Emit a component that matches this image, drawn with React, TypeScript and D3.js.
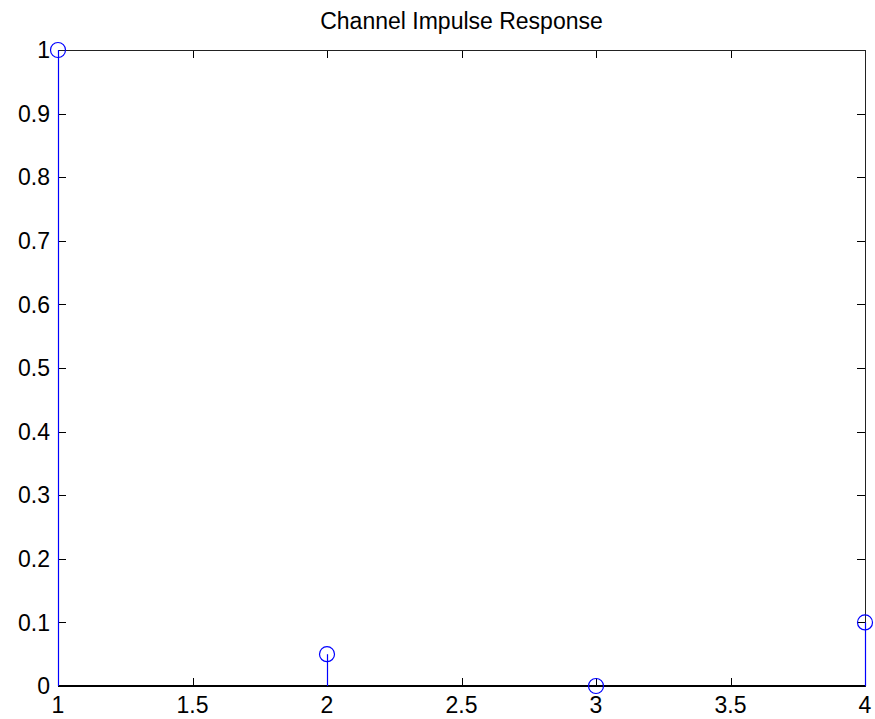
import { useEffect, useRef } from "react";
import * as d3 from "d3";

// stem data
const sampleIndex = [1, 2, 3, 4];
const tapValues = [1, 0.05, 0, 0.1];
const xTicks = [1, 1.5, 2, 2.5, 3, 3.5, 4];
const yTicks = [0, 0.1, 0.2, 0.3, 0.4, 0.5, 0.6, 0.7, 0.8, 0.9, 1];
const chartTitle = "Channel Impulse Response";

const W = 875;
const H = 719;

const App = () => {
  const ref = useRef<SVGSVGElement>(null);

  useEffect(() => {
    document.body.style.margin = "0";
    const svg = d3.select(ref.current);
    svg.selectAll("*").remove();

    const margin = { top: 50, right: 10, bottom: 33, left: 58 };
    const x = d3.scaleLinear().domain([1, 4]).range([margin.left, W - margin.right]);
    const y = d3.scaleLinear().domain([0, 1]).range([H - margin.bottom, margin.top]);
    const font = "'Liberation Sans', Arial, sans-serif";
    const fs = 23;

    svg.append("rect").attr("width", W).attr("height", H).attr("fill", "#fff");

    const [x0, x1] = x.range();
    const [y0, y1] = y.range();

    // inner ticks on all four sides
    const tickLen = 8;
    const g = svg.append("g").attr("stroke", "#000").attr("stroke-width", 1);
    xTicks.forEach((t) => {
      const px = Math.round(x(t)) + 0.5;
      g.append("line").attr("x1", px).attr("x2", px).attr("y1", y0).attr("y2", y0 - tickLen);
      g.append("line").attr("x1", px).attr("x2", px).attr("y1", y1).attr("y2", y1 + tickLen);
    });
    yTicks.forEach((t) => {
      const py = Math.round(y(t)) + 0.5;
      g.append("line").attr("x1", x0).attr("x2", x0 + tickLen).attr("y1", py).attr("y2", py);
      g.append("line").attr("x1", x1).attr("x2", x1 - tickLen).attr("y1", py).attr("y2", py);
    });

    // box
    svg
      .append("rect")
      .attr("x", x0 + 0.5)
      .attr("y", y1 + 0.5)
      .attr("width", x1 - x0)
      .attr("height", y0 - y1)
      .attr("fill", "none")
      .attr("stroke", "#222")
      .attr("stroke-width", 1);

    // stem baseline
    svg
      .append("line")
      .attr("x1", x0)
      .attr("x2", x1)
      .attr("y1", y(0))
      .attr("y2", y(0))
      .attr("stroke", "#000")
      .attr("stroke-width", 2);

    // tick labels
    svg
      .append("g")
      .selectAll("text")
      .data(xTicks)
      .enter()
      .append("text")
      .attr("x", (d) => x(d))
      .attr("y", y0 + 27)
      .attr("text-anchor", "middle")
      .attr("font-family", font)
      .attr("font-size", fs)
      .text((d) => String(d));

    svg
      .append("g")
      .selectAll("text")
      .data(yTicks)
      .enter()
      .append("text")
      .attr("x", x0 - 8)
      .attr("y", (d) => y(d))
      .attr("dy", "0.36em")
      .attr("text-anchor", "end")
      .attr("font-family", font)
      .attr("font-size", fs)
      .text((d) => String(d));

    // stems
    const pts = sampleIndex.map((s, i) => ({ s, v: tapValues[i] }));
    svg
      .append("g")
      .selectAll("line")
      .data(pts)
      .enter()
      .append("line")
      .attr("x1", (d) => Math.round(x(d.s)) + 0.5)
      .attr("x2", (d) => Math.round(x(d.s)) + 0.5)
      .attr("y1", y(0))
      .attr("y2", (d) => y(d.v))
      .attr("stroke", "#0000ff")
      .attr("stroke-width", 1.2);

    svg
      .append("g")
      .selectAll("circle")
      .data(pts)
      .enter()
      .append("circle")
      .attr("cx", (d) => x(d.s))
      .attr("cy", (d) => y(d.v))
      .attr("r", 7.5)
      .attr("fill", "none")
      .attr("stroke", "#0000ff")
      .attr("stroke-width", 1.2);

    // title
    svg
      .append("text")
      .attr("x", (x0 + x1) / 2)
      .attr("y", 29)
      .attr("text-anchor", "middle")
      .attr("font-family", font)
      .attr("font-size", fs)
      .text(chartTitle);
  }, []);

  return <svg ref={ref} width={W} height={H} style={{ display: "block" }} />;
};

export default App;
